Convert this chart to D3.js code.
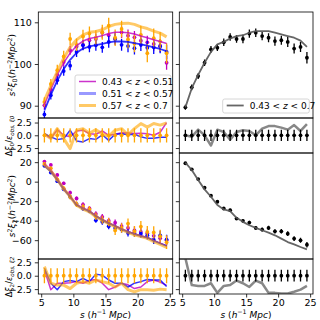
<!DOCTYPE html>
<html>
<head>
<meta charset="utf-8">
<script src="https://cdn.jsdelivr.net/npm/d3@7"></script>
<style>
  body { margin: 0; background: #fff; }
  text { font-family: "DejaVu Sans", sans-serif; fill: #000; }
</style>
</head>
<body>
<svg id="chart" width="320" height="320"></svg>
<script>
"use strict";

// separation bins s (h^-1 Mpc)
const sBins = [5.5, 6.5, 7.5, 8.5, 9.5, 10.5, 11.5, 12.5, 13.5, 14.5,
               15.5, 16.5, 17.5, 18.5, 19.5, 20.5, 21.5, 22.5, 23.5, 24.5];

const zLabels = ["0.43 < z < 0.51", "0.51 < z < 0.57", "0.57 < z < 0.7"];
const allLabel = "0.43 < z < 0.7";

// monopole s^2 xi_0 : model lines
const xi0ModelA = [90.3, 93.9, 97.4, 100.3, 102.6, 104.4, 105.5, 106.1, 106.4, 106.8, 107.3, 107.6, 107.6, 107.5, 107.2, 106.7, 106.3, 105.8, 105.4, 104.9];
const xi0ModelB = [88.9, 92.6, 96.0, 98.8, 101.0, 102.7, 103.7, 104.2, 104.5, 104.8, 105.2, 105.4, 105.4, 105.3, 105.0, 104.7, 104.4, 104.0, 103.6, 103.1];
const xi0ModelC = [91.3, 94.8, 98.2, 101.4, 104.0, 105.8, 107.0, 107.6, 107.8, 108.2, 109.0, 109.5, 109.7, 109.8, 109.5, 108.9, 108.5, 107.9, 107.4, 106.5];
// monopole : measurements
const xi0ObsA = [90.1, 93.9, 97.4, 100.5, 103.3, 104.2, 104.6, 105.7, 106.0, 107.5, 106.9, 106.1, 107.6, 106.8, 106.4, 105.6, 105.2, 104.8, 104.4, 100.3];
const xi0ObsB = [87.9, 92.5, 96.1, 98.3, 99.6, 102.9, 104.5, 104.1, 104.5, 104.0, 105.3, 106.0, 104.6, 104.3, 103.8, 104.6, 103.9, 104.0, 104.2, 102.9];
const xi0ObsC = [90.9, 95.2, 98.5, 101.8, 106.0, 104.6, 106.6, 107.3, 106.3, 107.6, 109.2, 106.3, 108.4, 105.9, 104.9, 107.0, 102.6, 106.2, 105.4, 102.6];
const xi0ErrA = [0.9, 1.0, 1.0, 1.1, 1.1, 1.2, 1.2, 1.3, 1.3, 1.3, 1.4, 1.4, 1.4, 1.5, 1.5, 1.5, 1.6, 1.6, 1.6, 1.7];
const xi0ErrB = [0.9, 1.0, 1.0, 1.1, 1.1, 1.2, 1.2, 1.3, 1.3, 1.3, 1.4, 1.4, 1.4, 1.5, 1.5, 1.5, 1.6, 1.6, 1.6, 1.7];
const xi0ErrC = [1.1, 1.2, 1.3, 1.4, 1.5, 1.5, 1.6, 1.7, 1.8, 1.8, 1.9, 2.0, 2.0, 2.1, 2.1, 2.2, 2.2, 2.3, 2.3, 2.4];
// monopole : full sample
const xi0ModelAll = [89.6, 94.2, 97.4, 100.3, 102.9, 104.7, 105.3, 106.1, 106.7, 106.9, 107.5, 107.9, 107.9, 107.9, 107.5, 107.1, 106.7, 106.3, 105.6, 104.1];
const xi0ObsAll = [89.6, 94.4, 97.1, 100.3, 103.5, 103.9, 105.2, 106.5, 106.0, 106.0, 107.3, 107.5, 106.7, 106.3, 105.5, 105.7, 105.3, 103.7, 104.1, 101.5];
const xi0ErrAll = [0.6, 0.7, 0.7, 0.8, 0.8, 0.8, 0.9, 0.9, 0.9, 1.0, 1.0, 1.0, 1.0, 1.1, 1.1, 1.1, 1.2, 1.2, 1.2, 1.4];

// monopole residuals
const res0A = [0.3, -0.6, 1.1, 0.0, -0.3, 0.85, 1.0, 0.3, 0.2, 0.85, 0.0, 0.2, 0.5, 0.45, 0.35, 0.4, 0.3, 0.0, 0.6, 2.5];
const res0B = [0.3, -0.3, -0.85, -0.65, 1.0, -1.1, -1.3, -0.65, -0.8, 0.1, -1.0, 0.2, 0.3, 0.1, 0.2, -0.3, -0.6, -0.6, -0.4, -0.4];
const res0C = [0.2, -0.65, 1.3, -0.65, -2.6, 1.0, 1.3, 0.4, 1.1, 0.3, -0.2, 1.0, 1.3, 0.1, 1.3, 2.3, 1.6, 2.3, 2.0, 2.4];
const res0All = [0.0, -0.3, 1.1, 0.0, -2.0, 1.1, 0.65, -0.85, 0.65, 1.0, 0.85, 0.0, 1.3, 1.8, 1.8, 1.5, 1.1, 2.0, 0.85, 2.2];

// quadrupole s^2 xi_2 : model lines
const xi2ModelA = [18.5, 12.0, 3.0, -6.8, -14.8, -23.5, -27.0, -30.0, -35.0, -38.8, -42.4, -45.2, -48.4, -51.0, -53.4, -55.4, -57.2, -60.2, -63.0, -65.6];
const xi2ModelB = [16.2, 10.3, 1.7, -7.9, -15.5, -24.0, -27.8, -30.5, -35.5, -39.2, -42.8, -45.5, -48.8, -51.4, -53.8, -55.8, -57.4, -60.6, -63.4, -66.0];
const xi2ModelC = [17.0, 11.0, 2.2, -7.4, -15.2, -24.2, -28.2, -31.0, -36.0, -39.6, -43.2, -46.0, -49.2, -52.0, -54.4, -56.4, -58.2, -61.4, -64.4, -67.4];
// quadrupole : measurements
const xi2ObsA = [20.6, 17.2, 6.9, -1.7, -11.3, -17.2, -23.5, -27.5, -33.0, -36.0, -40.0, -42.0, -45.5, -47.5, -50.0, -51.5, -53.0, -55.5, -58.0, -60.0];
const xi2ObsB = [16.2, 9.3, 0.5, -7.9, -15.5, -23.0, -27.5, -30.0, -39.5, -41.2, -45.7, -47.4, -49.0, -52.6, -52.6, -53.3, -55.0, -59.5, -55.0, -59.4];
const xi2ObsC = [18.2, 13.7, 2.4, -6.9, -15.5, -23.0, -25.8, -28.5, -35.4, -39.0, -41.5, -50.0, -47.5, -43.0, -51.0, -46.0, -51.5, -52.0, -56.0, -62.0];
const xi2ErrA = [1.2, 1.3, 1.5, 1.7, 1.9, 2.1, 2.3, 2.5, 2.7, 2.9, 3.1, 3.3, 3.5, 3.7, 3.9, 4.1, 4.3, 4.5, 4.7, 5.0];
const xi2ErrB = [1.2, 1.3, 1.5, 1.7, 1.9, 2.1, 2.3, 2.5, 2.7, 2.9, 3.1, 3.3, 3.5, 3.7, 3.9, 4.1, 4.3, 4.5, 4.7, 5.0];
const xi2ErrC = [1.7, 1.8, 2.1, 2.4, 2.7, 2.9, 3.2, 3.5, 3.8, 4.1, 4.3, 4.6, 4.9, 5.2, 5.5, 5.7, 6.0, 6.3, 6.6, 7.0];
// quadrupole : full sample
const xi2ModelAll = [19.6, 12.0, 1.7, -7.9, -15.5, -24.0, -28.5, -30.2, -37.1, -41.2, -44.7, -47.4, -49.8, -52.2, -55.0, -58.4, -61.9, -64.3, -67.0, -69.4];
const xi2ObsAll = [18.9, 12.7, 2.7, -6.2, -14.4, -20.6, -27.5, -29.2, -37.8, -40.2, -41.9, -47.4, -49.1, -47.4, -50.9, -50.9, -53.3, -58.4, -60.1, -64.6];
const xi2ErrAll = [0.8, 0.9, 1.0, 1.1, 1.2, 1.3, 1.4, 1.5, 1.6, 1.7, 1.8, 1.9, 2.0, 2.1, 2.2, 2.3, 2.4, 2.5, 2.6, 2.8];

// quadrupole residuals
const res2A = [1.1, -2.6, -1.4, -1.4, -1.3, -1.1, -1.4, -0.9, -0.7, -1.4, -2.6, -2.1, -1.4, -1.7, -2.4, -2.1, -1.1, -0.8, -1.2, -1.8];
const res2B = [1.4, -1.4, -2.6, -1.1, -0.9, -1.1, -0.5, -1.1, 0.3, 0.1, -0.8, -1.4, -1.4, -2.1, -1.4, -1.1, -0.7, -0.8, -0.8, -2.0];
const res2C = [1.7, -1.4, -1.75, -1.75, -2.4, -1.4, -1.1, -1.4, -0.8, -1.1, -1.4, -2.1, -1.4, -2.6, -3.0, -2.6, -2.6, -2.7, -2.5, -2.6];
const res2All = [3.3, -1.75, -1.9, -1.9, -1.4, -3.2, -1.9, -1.75, -0.9, -1.4, -2.1, -0.9, -1.4, -3.2, -3.2, -3.3, -3.3, -3.0, -2.6, -1.9];

// residual error bars (units of sigma)
const resErrC = [1.4, 1.4, 1.4, 1.4, 1.4, 1.4, 1.4, 1.4, 1.4, 1.4, 1.4, 1.4, 1.4, 1.4, 1.4, 1.4, 1.4, 1.4, 1.4, 1.4];
const resErrAll = [1.1, 1.1, 1.1, 1.1, 1.1, 1.1, 1.1, 1.1, 1.1, 1.1, 1.1, 1.1, 1.1, 1.1, 1.1, 1.1, 1.1, 1.1, 1.1, 1.1];

const xTicks = [5, 10, 15, 20, 25];
const xi0Ticks = [90, 100, 110];
const xi2Ticks = [-60, -40, -20, 0, 20];
const resTicks = [-2.5, 0, 2.5];

// ---------------------------------------------------------------------------

const C = { m: "#bf00bf", b: "#0000ff", o: "#ffa500", k: "#000", g: "#555" };

const svg = d3.select("#chart");
const cols = [[38.3, 172.7], [179.3, 313]];
const rows = [[12, 118], [118, 153], [153, 259], [259, 294]];
const yDomains = [[87.05, 112.47], [-3.47, 3.39], [-79.3, 29.4], [-3.41, 3.12]];

const zip = (ys) => sBins.map((s, i) => [s, ys[i]]);

const makePanel = (ci, ri) => {
  const x = d3.scaleLinear().domain([4.55, 25.45]).range(cols[ci]);
  const y = d3.scaleLinear().domain(yDomains[ri]).range([rows[ri][1], rows[ri][0]]);
  const id = "clip" + ci + ri;
  svg.append("clipPath").attr("id", id).append("rect")
     .attr("x", cols[ci][0]).attr("y", rows[ri][0])
     .attr("width", cols[ci][1] - cols[ci][0]).attr("height", rows[ri][1] - rows[ri][0]);
  const g = svg.append("g").attr("clip-path", `url(#${id})`);
  return { x, y, g, ci, ri };
};

const drawLine = (p, ys, color, width, alpha) => {
  p.g.append("path")
     .datum(zip(ys))
     .attr("fill", "none")
     .attr("stroke", color)
     .attr("stroke-width", width)
     .attr("stroke-opacity", alpha)
     .attr("stroke-linejoin", "round")
     .attr("d", d3.line().x(d => p.x(d[0])).y(d => p.y(d[1])));
};

const drawErr = (p, ys, errs, color) => {
  const pts = zip(ys).map((d, i) => [d[0], d[1], errs[i]]);
  p.g.append("g").selectAll("line").data(pts).enter().append("line")
     .attr("x1", d => p.x(d[0])).attr("x2", d => p.x(d[0]))
     .attr("y1", d => p.y(d[1] - d[2])).attr("y2", d => p.y(d[1] + d[2]))
     .attr("stroke", color).attr("stroke-width", 1.3);
  p.g.append("g").selectAll("circle").data(pts).enter().append("circle")
     .attr("cx", d => p.x(d[0])).attr("cy", d => p.y(d[1]))
     .attr("r", 1.9).attr("fill", color);
};

const drawAxes = (p, ticks, showY, showX) => {
  const ax = svg.append("g");
  const fmt = p.ri % 2 ? d3.format(".1f") : d3.format("d");
  const yAxis = d3.axisLeft(p.y).tickValues(ticks).tickSizeOuter(0).tickSize(3.5).tickPadding(3)
                  .tickFormat(showY ? (d => fmt(d).replace("-", "\u2212")) : "");
  ax.append("g").attr("transform", `translate(${cols[p.ci][0]},0)`).call(yAxis);
  if (showX) {
    const xAxis = d3.axisBottom(p.x).tickValues(xTicks).tickSizeOuter(0).tickSize(3.5).tickPadding(1.5);
    ax.append("g").attr("transform", `translate(0,${rows[p.ri][1]})`).call(xAxis);
  }
  ax.selectAll(".domain").remove();
  ax.selectAll("text").attr("font-size", 9.5).attr("font-family", "DejaVu Sans").attr("fill", "#000");
  ax.selectAll("line").attr("stroke", "#000").attr("stroke-width", 0.8);
  svg.append("rect")
     .attr("x", cols[p.ci][0]).attr("y", rows[p.ri][0])
     .attr("width", cols[p.ci][1] - cols[p.ci][0]).attr("height", rows[p.ri][1] - rows[p.ri][0])
     .attr("fill", "none").attr("stroke", "#000").attr("stroke-width", 0.8);
};

// mathtext-like label: parts = [text, "sup"|"sub"|"", italic]
const mathText = (parent, parts, size) => {
  const t = parent.append("text").attr("font-size", size).attr("text-anchor", "middle");
  let cur = 0;
  parts.forEach(([txt, kind, it]) => {
    const off = kind === "sup" ? -0.38 * size : kind === "sub" ? 0.22 * size : 0;
    t.append("tspan")
     .attr("dy", off - cur)
     .attr("font-size", kind ? size * 0.7 : size)
     .attr("font-style", it ? "italic" : "normal")
     .text(txt);
    cur = off;
  });
  return t;
};

const legend = (x0, y0, w, h, items) => {
  const g = svg.append("g");
  g.append("rect").attr("x", x0).attr("y", y0).attr("width", w).attr("height", h)
   .attr("rx", 2).attr("fill", "#fff").attr("fill-opacity", 0.8)
   .attr("stroke", "#ccc").attr("stroke-width", 0.8);
  items.forEach((it, i) => {
    const cy = y0 + 6.5 + i * 12;
    g.append("line").attr("x1", x0 + 4).attr("x2", x0 + 21).attr("y1", cy).attr("y2", cy)
     .attr("stroke", it.color).attr("stroke-width", it.width).attr("stroke-opacity", it.alpha);
    const t = g.append("text").attr("x", x0 + 27).attr("y", cy + 3.2).attr("font-size", 9);
    const parts = it.label.split("z");
    t.append("tspan").text(parts[0]);
    t.append("tspan").attr("font-style", "italic").text("z");
    t.append("tspan").text(parts[1]);
  });
};

// ---------------------------------------------------------------------------

// monopole, subsamples
const p00 = makePanel(0, 0);
drawErr(p00, xi0ObsA, xi0ErrA, C.m);
drawErr(p00, xi0ObsB, xi0ErrB, C.b);
drawErr(p00, xi0ObsC, xi0ErrC, C.o);
drawLine(p00, xi0ModelA, C.m, 1.5, 0.8);
drawLine(p00, xi0ModelB, C.b, 1.8, 0.8);
drawLine(p00, xi0ModelC, C.o, 3, 0.6);
drawAxes(p00, xi0Ticks, true, false);

// monopole, full sample
const p10 = makePanel(1, 0);
drawErr(p10, xi0ObsAll, xi0ErrAll, C.k);
drawLine(p10, xi0ModelAll, C.g, 1.8, 0.9);
drawAxes(p10, xi0Ticks, false, false);

// monopole residuals
const p01 = makePanel(0, 1);
drawLine(p01, res0A, C.m, 1.5, 0.8);
drawLine(p01, res0B, C.b, 1.5, 0.8);
drawLine(p01, res0C, C.o, 3, 0.6);
drawErr(p01, sBins.map(() => 0), resErrC, C.o);
drawAxes(p01, resTicks, true, false);

const p11 = makePanel(1, 1);
drawLine(p11, res0All, C.g, 2.5, 0.7);
drawErr(p11, sBins.map(() => 0), resErrAll, C.k);
drawAxes(p11, resTicks, false, false);

// quadrupole, subsamples
const p02 = makePanel(0, 2);
drawErr(p02, xi2ObsA, xi2ErrA, C.m);
drawErr(p02, xi2ObsB, xi2ErrB, C.b);
drawErr(p02, xi2ObsC, xi2ErrC, C.o);
drawLine(p02, xi2ModelA, C.m, 1.5, 0.8);
drawLine(p02, xi2ModelB, C.b, 1.8, 0.8);
drawLine(p02, xi2ModelC, C.o, 3, 0.6);
drawAxes(p02, xi2Ticks, true, false);

const p12 = makePanel(1, 2);
drawErr(p12, xi2ObsAll, xi2ErrAll, C.k);
drawLine(p12, xi2ModelAll, C.g, 1.8, 0.9);
drawAxes(p12, xi2Ticks, false, false);

// quadrupole residuals
const p03 = makePanel(0, 3);
drawLine(p03, res2A, C.m, 1.5, 0.8);
drawLine(p03, res2B, C.b, 1.5, 0.8);
drawLine(p03, res2C, C.o, 3, 0.6);
drawErr(p03, sBins.map(() => 0), resErrC, C.o);
drawAxes(p03, resTicks, true, true);

const p13 = makePanel(1, 3);
drawLine(p13, res2All, C.g, 2.5, 0.7);
drawErr(p13, sBins.map(() => 0), resErrAll, C.k);
drawAxes(p13, resTicks, false, true);

// legends
legend(75, 75, 96, 38, [
  { label: zLabels[0], color: C.m, width: 1.5, alpha: 0.8 },
  { label: zLabels[1], color: C.b, width: 3, alpha: 0.4 },
  { label: zLabels[2], color: C.o, width: 3, alpha: 0.6 }
]);
legend(222.7, 99, 86.6, 14, [
  { label: allLabel, color: C.g, width: 1.8, alpha: 0.9 }
]);

// axis titles
mathText(svg.append("g").attr("transform", "translate(15,65) rotate(-90)"),
  [["s", "", 1], ["2", "sup", 0], ["ξ", "", 1], ["0", "sub", 0], ["(", "", 0], ["h", "", 1],
   ["\u22122", "sup", 0], ["Mpc", "", 1], ["2", "sup", 0], [")", "", 0]], 9);
mathText(svg.append("g").attr("transform", "translate(15,206) rotate(-90)"),
  [["s", "", 1], ["2", "sup", 0], ["ξ", "", 1], ["2", "sub", 0], ["(", "", 0], ["h", "", 1],
   ["\u22122", "sup", 0], ["Mpc", "", 1], ["2", "sup", 0], [")", "", 0]], 9);
mathText(svg.append("g").attr("transform", "translate(12,136) rotate(-90)"),
  [["Δ", "", 0], ["ξ", "", 1], ["0", "sub", 0], ["/", "", 0], ["ε", "", 1], ["obs, ξ0", "sub", 1]], 8);
mathText(svg.append("g").attr("transform", "translate(12,277) rotate(-90)"),
  [["Δ", "", 0], ["ξ", "", 1], ["2", "sub", 0], ["/", "", 0], ["ε", "", 1], ["obs, ξ2", "sub", 1]], 8);
mathText(svg.append("g").attr("transform", "translate(105.5,317.5)"),
  [["s", "", 1], [" (", "", 0], ["h", "", 1], ["\u22121", "sup", 0], [" Mpc", "", 1], [")", "", 0]], 9);
mathText(svg.append("g").attr("transform", "translate(246,317.5)"),
  [["s", "", 1], [" (", "", 0], ["h", "", 1], ["\u22121", "sup", 0], [" Mpc", "", 1], [")", "", 0]], 9);
</script>
</body>
</html>
